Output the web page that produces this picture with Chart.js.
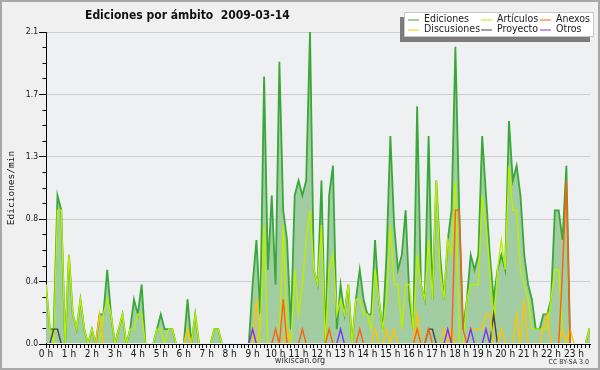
<!DOCTYPE html>
<html lang="es">
<head>
<meta charset="UTF-8">
<title>Ediciones por ámbito 2009-03-14</title>
<script src="https://cdn.jsdelivr.net/npm/chart.js"></script>
<style>
  body { margin: 0; background: #f0f0f0; }
  #wrap { width: 600px; height: 370px; }
</style>
</head>
<body>
<div id="wrap"><canvas id="chart" width="600" height="370"></canvas></div>
<script>
// one value per 10-minute slot, in edits per minute (one row = one hour)
const minutes = Array.from({ length: 144 }, (_, i) => i * 10);

const ediciones = [
  0.4, 0.1, 0.1, 1.0, 0.9, 0.0,
  0.6, 0.2, 0.1, 0.3, 0.1, 0.0,
  0.1, 0.0, 0.2, 0.2, 0.5, 0.2,
  0.0, 0.1, 0.2, 0.0, 0.1, 0.3,
  0.2, 0.4, 0.0, 0.0, 0.0, 0.1,
  0.2, 0.1, 0.1, 0.1, 0.0, 0.0,
  0.0, 0.3, 0.0, 0.2, 0.0, 0.0,
  0.0, 0.0, 0.1, 0.1, 0.0, 0.0,
  0.0, 0.0, 0.0, 0.0, 0.0, 0.0,
  0.4, 0.7, 0.2, 1.8, 0.5, 1.0,
  0.4, 1.9, 0.9, 0.7, 0.1, 1.0,
  1.1, 1.0, 1.1, 2.1, 0.5, 0.4,
  1.1, 0.0, 1.0, 1.2, 0.1, 0.4,
  0.2, 0.4, 0.0, 0.3, 0.5, 0.3,
  0.2, 0.2, 0.7, 0.3, 0.1, 0.6,
  1.4, 0.8, 0.5, 0.6, 0.9, 0.3,
  0.1, 1.6, 0.4, 0.3, 1.4, 0.3,
  1.1, 0.6, 0.3, 0.7, 0.9, 2.0,
  0.9, 0.1, 0.3, 0.6, 0.5, 0.6,
  1.4, 1.0, 0.6, 0.3, 0.5, 0.6,
  0.5, 1.5, 1.1, 1.2, 1.0, 0.6,
  0.4, 0.3, 0.1, 0.1, 0.2, 0.2,
  0.3, 0.9, 0.9, 0.7, 1.2, 0.0,
  0.0, 0.0, 0.0, 0.0, 0.1, 0.1
];

const articulos = [
  0.4, 0.1, 0.0, 0.9, 0.9, 0.0,
  0.6, 0.2, 0.1, 0.3, 0.1, 0.0,
  0.1, 0.0, 0.0, 0.2, 0.3, 0.2,
  0.0, 0.1, 0.2, 0.0, 0.1, 0.1,
  0.2, 0.2, 0.0, 0.0, 0.0, 0.1,
  0.1, 0.0, 0.1, 0.1, 0.0, 0.0,
  0.0, 0.1, 0.0, 0.2, 0.0, 0.0,
  0.0, 0.0, 0.1, 0.1, 0.0, 0.0,
  0.0, 0.0, 0.0, 0.0, 0.0, 0.0,
  0.0, 0.0, 0.1, 0.8, 0.0, 0.0,
  0.0, 0.0, 0.8, 0.1, 0.0, 0.5,
  0.2, 0.4, 0.7, 0.9, 0.5, 0.4,
  0.8, 0.0, 0.5, 0.6, 0.2, 0.3,
  0.2, 0.4, 0.0, 0.3, 0.3, 0.2,
  0.2, 0.1, 0.5, 0.3, 0.1, 0.3,
  0.8, 0.4, 0.4, 0.1, 0.4, 0.4,
  0.1, 0.6, 0.4, 0.3, 0.7, 0.3,
  1.1, 0.5, 0.3, 0.7, 0.6, 1.1,
  0.0, 0.0, 0.3, 0.4, 0.4, 0.4,
  1.0, 0.8, 0.5, 0.1, 0.5, 0.7,
  0.5, 1.2, 0.9, 0.9, 0.5, 0.4,
  0.3, 0.1, 0.1, 0.1, 0.1, 0.1,
  0.3, 0.5, 0.5, 0.1, 0.0, 0.0,
  0.0, 0.0, 0.0, 0.0, 0.1, 0.1
];

const anexos = [
  0, 0, 0, 0, 0, 0,
  0, 0, 0, 0, 0, 0,
  0, 0, 0, 0, 0, 0,
  0, 0, 0, 0, 0, 0,
  0, 0, 0, 0, 0, 0,
  0, 0, 0, 0, 0, 0,
  0, 0, 0, 0, 0, 0,
  0, 0, 0, 0, 0, 0,
  0, 0, 0, 0, 0, 0,
  0, 0, 0, 0, 0, 0,
  0.1, 0, 0.3, 0, 0, 0,
  0, 0.1, 0, 0, 0, 0,
  0, 0, 0.1, 0, 0, 0,
  0, 0, 0, 0, 0.1, 0,
  0, 0, 0, 0, 0, 0,
  0, 0, 0, 0, 0, 0,
  0, 0.1, 0, 0, 0.1, 0,
  0, 0, 0, 0, 0, 0.9,
  0.9, 0.1, 0, 0, 0, 0,
  0, 0, 0, 0, 0, 0,
  0, 0, 0, 0, 0, 0,
  0, 0, 0, 0, 0, 0,
  0, 0, 0, 0.5, 1.1, 0,
  0, 0, 0, 0, 0, 0
];

const discusiones = [
  0, 0, 0, 0, 0, 0,
  0, 0, 0, 0, 0, 0,
  0, 0, 0.2, 0, 0, 0,
  0, 0, 0, 0, 0, 0,
  0, 0, 0, 0, 0, 0,
  0, 0, 0, 0, 0, 0,
  0, 0.1, 0, 0, 0, 0,
  0, 0, 0, 0, 0, 0,
  0, 0, 0, 0, 0, 0,
  0, 0.3, 0, 0, 0, 0,
  0, 0, 0, 0.1, 0, 0,
  0, 0, 0, 0, 0, 0,
  0, 0, 0, 0, 0, 0,
  0, 0, 0, 0, 0, 0,
  0, 0, 0.1, 0, 0, 0.1,
  0, 0.1, 0, 0, 0, 0,
  0, 0.2, 0, 0, 0, 0,
  0, 0, 0.1, 0, 0.1, 0,
  0, 0, 0, 0.1, 0.1, 0.1,
  0.1, 0.2, 0.2, 0, 0, 0.1,
  0, 0, 0, 0.2, 0, 0.3,
  0, 0, 0, 0, 0.1, 0.2,
  0, 0, 0, 0.1, 0, 0.1,
  0, 0, 0, 0, 0, 0
];

const proyecto = [
  0, 0, 0.1, 0.1, 0, 0,
  0, 0, 0, 0, 0, 0,
  0, 0, 0, 0, 0, 0,
  0, 0, 0, 0, 0, 0,
  0, 0, 0, 0, 0, 0,
  0, 0, 0, 0, 0, 0,
  0, 0, 0, 0, 0, 0,
  0, 0, 0, 0, 0, 0,
  0, 0, 0, 0, 0, 0,
  0, 0, 0, 0, 0, 0,
  0, 0, 0, 0, 0, 0,
  0, 0, 0, 0, 0, 0,
  0, 0, 0, 0, 0, 0,
  0, 0, 0, 0, 0, 0,
  0, 0, 0, 0, 0, 0,
  0, 0, 0, 0, 0, 0,
  0, 0, 0, 0, 0.1, 0.1,
  0, 0, 0, 0, 0, 0,
  0, 0, 0, 0, 0, 0,
  0, 0, 0, 0.2, 0, 0,
  0, 0, 0, 0, 0, 0,
  0, 0, 0, 0, 0, 0,
  0, 0, 0, 0, 0, 0,
  0, 0, 0, 0, 0, 0
];

const otros = [
  0, 0, 0, 0, 0, 0,
  0, 0, 0, 0, 0, 0,
  0, 0, 0, 0, 0, 0,
  0, 0, 0, 0, 0, 0,
  0, 0, 0, 0, 0, 0,
  0, 0, 0, 0, 0, 0,
  0, 0, 0, 0, 0, 0,
  0, 0, 0, 0, 0, 0,
  0, 0, 0, 0, 0, 0,
  0.1, 0, 0, 0, 0, 0,
  0, 0, 0, 0, 0, 0,
  0, 0, 0, 0, 0, 0,
  0, 0, 0, 0, 0, 0.1,
  0, 0, 0, 0, 0, 0,
  0, 0, 0, 0, 0, 0,
  0, 0, 0, 0, 0, 0,
  0, 0, 0, 0, 0, 0,
  0, 0, 0, 0.1, 0, 0,
  0, 0, 0, 0.1, 0, 0,
  0, 0.1, 0, 0, 0, 0,
  0, 0, 0, 0, 0, 0,
  0, 0, 0, 0, 0, 0,
  0, 0, 0, 0, 0, 0,
  0, 0, 0, 0, 0, 0
];

// y ticks: labelled every 0.42, small marks every 0.105
const yTicks = [0, 0.42, 0.84, 1.26, 1.68, 2.1];
const yMinorTicks = [0, 0.105, 0.21, 0.315, 0.42, 0.525, 0.63, 0.735, 0.84, 0.945, 1.05,
  1.155, 1.26, 1.365, 1.47, 1.575, 1.68, 1.785, 1.89, 1.995, 2.1];

const FONT = '"DejaVu Sans Condensed", "DejaVu Sans", sans-serif';

const line = (label, data, color, order) => ({
  label, data, order,
  borderColor: color,
  borderWidth: 1.4,
  pointRadius: 0,
  tension: 0,
  fill: false,
  clip: { left: 0, top: 3, right: 0, bottom: -1 }
});

const datasets = [
  Object.assign(line('Ediciones', ediciones, '#38a838', 6), {
    fill: 'origin', backgroundColor: '#a2cda2', borderWidth: 1.8
  }),
  line('Artículos', articulos, '#bdee00', 5),
  line('Anexos', anexos, '#ff5f10', 2),
  line('Discusiones', discusiones, '#ffc400', 3),
  line('Proyecto', proyecto, '#444444', 4),
  line('Otros', otros, '#8030f0', 1)
];

// background, frame, title, legend box and footer
const decor = {
  id: 'decor',
  beforeDraw(chart) {
    const { ctx, chartArea: a } = chart;
    ctx.save();
    ctx.fillStyle = '#f0f0f0';
    ctx.fillRect(0, 0, chart.width, chart.height);
    ctx.fillStyle = '#eef0f2';
    ctx.fillRect(a.left, a.top, a.right - a.left, a.bottom - a.top);
    ctx.restore();
  },
  afterDraw(chart) {
    const ctx = chart.ctx;
    ctx.save();
    ctx.strokeStyle = '#a8a8a8';
    ctx.lineWidth = 2;
    ctx.strokeRect(1, 1, chart.width - 2, chart.height - 2);

    ctx.fillStyle = '#111';
    ctx.textBaseline = 'alphabetic';
    ctx.font = 'bold 12px ' + FONT;
    ctx.fillText('Ediciones por ámbito  2009-03-14', 85, 18.5);

    // legend
    ctx.fillStyle = '#7c7c7c';
    ctx.fillRect(400, 17, 190, 25);
    ctx.fillStyle = '#ffffff';
    ctx.fillRect(404, 12, 190, 25);
    ctx.strokeStyle = '#c8c8c8';
    ctx.lineWidth = 1;
    ctx.strokeRect(404.5, 12.5, 189, 24);
    const cols = [408, 481, 540];
    const rows = [19.5, 29.5];
    ctx.font = '10.5px ' + FONT;
    ctx.textBaseline = 'middle';
    chart.data.datasets.forEach((ds, k) => {
      const x = cols[k % 3], y = rows[Math.floor(k / 3)];
      ctx.strokeStyle = ds.borderColor;
      ctx.beginPath();
      ctx.moveTo(x, y + 0.5);
      ctx.lineTo(x + 11, y + 0.5);
      ctx.stroke();
      ctx.fillStyle = '#222';
      ctx.fillText(ds.label, x + 16, y);
    });

    // footer
    ctx.fillStyle = '#333';
    ctx.textAlign = 'center';
    ctx.font = '9px ' + FONT;
    ctx.fillText('wikiscan.org', 300, 361);
    ctx.textAlign = 'right';
    ctx.font = '7px ' + FONT;
    ctx.fillText('CC BY-SA 3.0', 589, 362);
    ctx.restore();
  }
};

new Chart(document.getElementById('chart'), {
  type: 'line',
  data: { labels: minutes, datasets },
  plugins: [decor],
  options: {
    responsive: false,
    devicePixelRatio: 1,
    animation: false,
    events: [],
    layout: { padding: { top: 32, right: 10, bottom: 0, left: 0 } },
    plugins: {
      legend: { display: false },
      title: { display: false },
      tooltip: { enabled: false },
      filler: { drawTime: 'beforeDatasetsDraw' }
    },
    scales: {
      x: {
        type: 'linear',
        min: 0,
        max: 1421.8,
        afterBuildTicks: s => { s.ticks = minutes.filter(m => m <= s.max).map(v => ({ value: v })); },
        afterFit: s => { s.height = 26; },
        grid: { drawOnChartArea: false, tickLength: 4, tickColor: '#000' },
        border: { color: '#000', width: 1 },
        ticks: {
          autoSkip: false, maxRotation: 0, minRotation: 0, padding: 0,
          color: '#111', font: { family: FONT, size: 10 },
          callback: v => (v % 60 === 0 ? (v / 60) + ' h' : '')
        }
      },
      y: {
        type: 'linear',
        position: 'left',
        weight: 1,
        min: 0,
        max: 2.1,
        afterBuildTicks: s => { s.ticks = yTicks.map(v => ({ value: v })); },
        afterFit: s => { s.width = 46; },
        grid: { color: '#cdcdcd', tickColor: '#000', tickLength: 7 },
        border: { color: '#000', width: 1 },
        ticks: {
          padding: 1, color: '#111', font: { family: FONT, size: 8.5 },
          callback: v => v.toFixed(1)
        },
        title: {
          display: true, text: 'Ediciones/min', color: '#111',
          font: { family: '"DejaVu Sans Mono", monospace', size: 9.5 },
          padding: { top: 6, bottom: 0 }
        }
      },
      yMinor: {
        type: 'linear',
        axis: 'y',
        position: 'left',
        weight: 0,
        min: 0,
        max: 2.1,
        afterBuildTicks: s => { s.ticks = yMinorTicks.map(v => ({ value: v })); },
        afterFit: s => { s.width = 0; },
        grid: { drawOnChartArea: false, tickColor: '#000', tickLength: 3.5 },
        border: { display: false },
        ticks: { display: false }
      }
    }
  }
});
</script>
</body>
</html>
